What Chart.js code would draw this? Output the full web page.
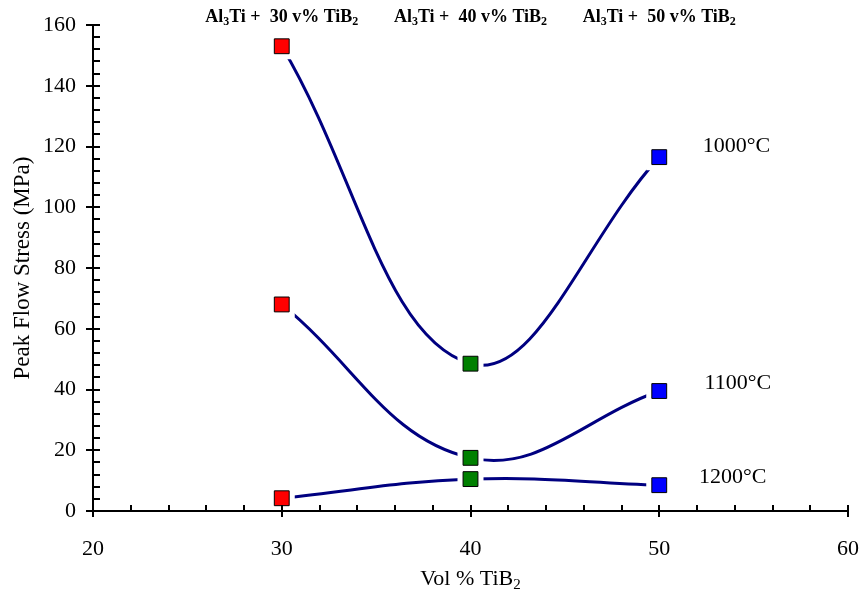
<!DOCTYPE html>
<html>
<head>
<meta charset="utf-8">
<script src="https://cdn.jsdelivr.net/npm/chart.js@4.4.0/dist/chart.umd.min.js"></script>
<style>
  html, body { margin: 0; padding: 0; background: #ffffff; }
  #wrap { width: 864px; height: 596px; }
</style>
</head>
<body>
<div id="wrap"><canvas id="c" width="864" height="596"></canvas></div>
<script>
// Peak flow stress of Al3Ti + TiB2 composites versus TiB2 content
const volPct = [30, 40, 50];
const stress1000 = [153, 48.5, 116.5];
const stress1100 = [68, 17.5, 39.5];
const stress1200 = [4.2, 10.5, 8.5];
const seriesValues = [stress1000, stress1100, stress1200];

const tempLabels = ['1000°C', '1100°C', '1200°C'];
const tempLabelX = [52.3, 52.4, 52.1];
const tempLabelY = [120, 42, 11];

const markerColors = ['#ff0000', '#008000', '#0000ff'];
const lineColor = '#000080';

const xMajorTicks = [20, 30, 40, 50, 60];
const yMajorTicks = [0, 20, 40, 60, 80, 100, 120, 140, 160];
const xMinorStep = 2;
const yMinorStep = 4;

const FONT = '"Liberation Serif", "Times New Roman", serif';

function pts(values) {
  return volPct.map((v, i) => ({ x: v, y: values[i] }));
}

const datasets = [];
seriesValues.forEach((vals, s) => {
  datasets.push({
    label: tempLabels[s] + ' curve',
    data: pts(vals),
    showLine: true,
    borderColor: lineColor,
    borderWidth: 3,
    tension: 0.4,
    pointRadius: 0,
    order: 2,
    isCurve: true
  });
});
seriesValues.forEach((vals, s) => {
  datasets.push({
    label: tempLabels[s],
    data: pts(vals),
    showLine: false,
    pointStyle: 'rect',
    pointRadius: 10.5,
    pointBackgroundColor: markerColors,
    pointBorderColor: '#000000',
    pointBorderWidth: 1,
    order: 1
  });
});

// Draw text made of runs, some of them as subscripts
function drawRuns(ctx, runs, cx, cy, size, align, weight) {
  const w8 = weight ? weight + ' ' : '';
  const subSize = Math.round(size * 0.68);
  let total = 0;
  const widths = runs.map(r => {
    ctx.font = w8 + (r[1] ? subSize : size) + 'px ' + FONT;
    const w = ctx.measureText(r[0]).width;
    total += w;
    return w;
  });
  let x = align === 'center' ? cx - total / 2 : cx;
  ctx.textAlign = 'left';
  ctx.textBaseline = 'alphabetic';
  runs.forEach((r, i) => {
    ctx.font = w8 + (r[1] ? subSize : size) + 'px ' + FONT;
    ctx.fillText(r[0], x, cy + (r[1] ? size * 0.16 : 0));
    x += widths[i];
  });
}

// Gap of the curves around their own markers
const GAP = 13;
const curveGapPlugin = {
  id: 'curveGap',
  beforeDatasetDraw(chart, args) {
    const ds = chart.data.datasets[args.index];
    if (!ds.isCurve) return;
    const ctx = chart.ctx;
    const xs = chart.scales.x, ys = chart.scales.y;
    ctx.save();
    ctx.beginPath();
    ctx.rect(0, 0, chart.width, chart.height);
    ds.data.forEach(p => {
      const px = xs.getPixelForValue(p.x), py = ys.getPixelForValue(p.y);
      ctx.rect(px - GAP, py - GAP, GAP * 2, GAP * 2);
    });
    ctx.clip('evenodd');
  },
  afterDatasetDraw(chart, args) {
    const ds = chart.data.datasets[args.index];
    if (!ds.isCurve) return;
    chart.ctx.restore();
  }
};

// Tick marks, composition headings, temperature labels, x title
const decorPlugin = {
  id: 'decor',
  afterDraw(chart) {
    const ctx = chart.ctx;
    const xs = chart.scales.x, ys = chart.scales.y;
    const area = chart.chartArea;
    ctx.save();
    ctx.strokeStyle = '#000000';
    ctx.lineWidth = 2;
    ctx.beginPath();
    // y axis ticks
    for (let v = yMajorTicks[0]; v <= yMajorTicks[yMajorTicks.length - 1] + 1e-9; v += yMinorStep) {
      const py = Math.round(ys.getPixelForValue(v));
      const major = yMajorTicks.includes(v);
      ctx.moveTo(area.left - (major ? 7 : 0), py);
      ctx.lineTo(area.left + 7, py);
    }
    // x axis ticks
    for (let v = xMajorTicks[0]; v <= xMajorTicks[xMajorTicks.length - 1] + 1e-9; v += xMinorStep) {
      const px = Math.round(xs.getPixelForValue(v));
      const major = xMajorTicks.includes(v);
      ctx.moveTo(px, area.bottom - 6);
      ctx.lineTo(px, area.bottom + (major ? 6 : 0));
    }
    ctx.stroke();

    ctx.fillStyle = '#000000';
    // composition headings above the plot
    volPct.forEach(v => {
      drawRuns(ctx, [['Al', 0], ['3', 1], ['Ti +  ' + v + ' v% TiB', 0], ['2', 1]],
        xs.getPixelForValue(v), 22, 18, 'center', 'bold');
    });
    // temperature labels
    ctx.font = '22px ' + FONT;
    ctx.textAlign = 'left';
    ctx.textBaseline = 'middle';
    tempLabels.forEach((t, i) => {
      ctx.fillText(t, xs.getPixelForValue(tempLabelX[i]), ys.getPixelForValue(tempLabelY[i]));
    });
    // x axis title
    drawRuns(ctx, [['Vol % TiB', 0], ['2', 1]], (area.left + area.right) / 2, 585, 22, 'center');
    ctx.restore();
  }
};

new Chart(document.getElementById('c'), {
  type: 'scatter',
  data: { datasets },
  options: {
    responsive: false,
    animation: false,
    events: [],
    layout: { padding: { left: 0, right: 16, top: 25, bottom: 0 } },
    plugins: { legend: { display: false }, tooltip: { enabled: false } },
    scales: {
      x: {
        type: 'linear',
        position: 'bottom',
        min: 20, max: 60,
        afterBuildTicks: s => { s.ticks = xMajorTicks.map(v => ({ value: v })); },
        afterFit: s => { s.height = 85; s.paddingLeft = 0; s.paddingRight = 0; },
        ticks: { color: '#000000', font: { family: FONT, size: 22 }, padding: 25, maxRotation: 0 },
        grid: { display: false, drawTicks: false, tickLength: 0 },
        border: { display: true, color: '#000000', width: 2 }
      },
      y: {
        type: 'linear',
        position: 'left',
        min: 0, max: 160,
        afterBuildTicks: s => { s.ticks = yMajorTicks.map(v => ({ value: v })); },
        afterFit: s => { s.width = 93; s.paddingTop = 0; s.paddingBottom = 0; },
        ticks: { color: '#000000', font: { family: FONT, size: 22 }, padding: 17 },
        grid: { display: false, drawTicks: false, tickLength: 0 },
        border: { display: true, color: '#000000', width: 2 },
        title: { display: true, text: 'Peak Flow Stress (MPa)', color: '#000000',
                 font: { family: FONT, size: 23 }, padding: { top: 9, bottom: 0 } }
      }
    }
  },
  plugins: [curveGapPlugin, decorPlugin]
});
</script>
</body>
</html>
